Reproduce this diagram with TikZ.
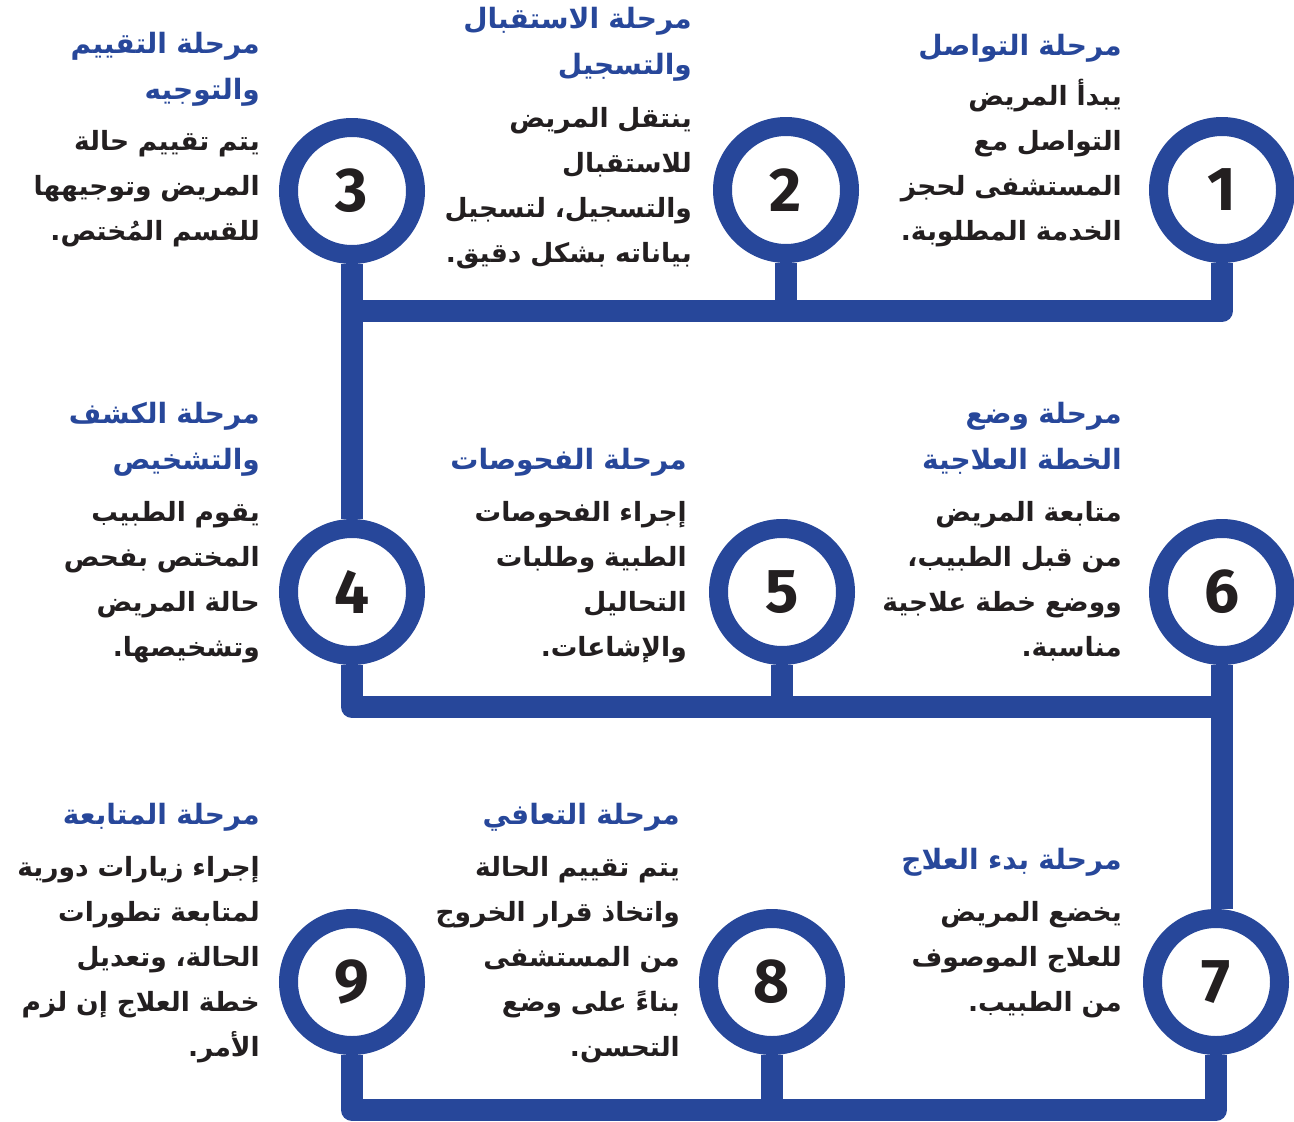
\documentclass[tikz,border=0pt]{standalone}
\usepackage{fontspec}
\usepackage{tikz}
\usetikzlibrary{calc}
\TeXXeTstate=1
\newfontfamily\arabicfont[Script=Arabic]{DejaVu Sans}
\newfontfamily\numfont{Fira Sans}
\definecolor{stepblue}{RGB}{39,71,154}
\definecolor{inkblack}{RGB}{35,31,32}
\newcommand{\arline}[1]{\beginR #1\endR}

\begin{document}
\begin{tikzpicture}[x=1pt,y=-1pt,
  ring/.style={circle,draw=stepblue,line width=19pt,minimum size=127pt,inner sep=0pt,
    fill=white,text=inkblack,font=\numfont\bfseries\fontsize{62}{62}\selectfont},
  pipe/.style={draw=stepblue,line width=22pt,line join=round},
  heading/.style={anchor=base east,text width=330pt,align=right,inner sep=0pt,
    text=stepblue,font=\arabicfont\bfseries\fontsize{28}{46}\selectfont},
  body/.style={heading,text=inkblack,font=\arabicfont\bfseries\fontsize{26.5}{45}\selectfont}]
  \useasboundingbox (0,0) rectangle (1294,1122);

  % numbered rings
  \node[ring] (c1) at (1222,190) {1};
  \node[ring] (c2) at (786,190) {2};
  \node[ring] (c3) at (352,191) {3};
  \node[ring] (c4) at (352,592) {4};
  \node[ring] (c5) at (782,592) {5};
  \node[ring] (c6) at (1222,592) {6};
  \node[ring] (c7) at (1216,982) {7};
  \node[ring] (c8) at (772,982) {8};
  \node[ring] (c9) at (352,982) {9};

  \coordinate (top) at (0,311);
  \coordinate (mid) at (0,707);
  \coordinate (bot) at (0,1110);

  % connecting pipes
  \draw[pipe] (c1.south) |- (c3.south |- top);
  \draw[pipe] (c2.south) -- (c2.south |- top);
  \draw[pipe] (c3.south) -- (c4.north);
  \draw[pipe] (c4.south) |- (c6.south |- mid) -- (c6.south |- c7.north);
  \draw[pipe] (c5.south) -- (c5.south |- mid);
  \draw[pipe] (c6.south) -- (c6.south |- mid);
  \draw[pipe] (c7.south) |- (c9.south |- bot) -- (c9.south);
  \draw[pipe] (c8.south) -- (c8.south |- bot);

  % first row
  \node[heading] (t1) at (1122,55) {\arline{مرحلة التواصل}};
  \node[body] (d1) at (1122,105) {\arline{يبدأ المريض}\\\arline{التواصل مع}\\
    \arline{المستشفى لحجز}\\\arline{الخدمة المطلوبة.}};
  \node[heading] (t2) at (692,28) {\arline{مرحلة الاستقبال}\\\arline{والتسجيل}};
  \node[body] (d2) at (692,127) {\arline{ينتقل المريض}\\\arline{للاستقبال}\\
    \arline{والتسجيل، لتسجيل}\\\arline{بياناته بشكل دقيق.}};
  \node[heading] (t3) at (260,53) {\arline{مرحلة التقييم}\\\arline{والتوجيه}};
  \node[body] (d3) at (260,150) {\arline{يتم تقييم حالة}\\\arline{المريض وتوجيهها}\\
    \arline{للقسم المُختص.}};

  % second row
  \node[heading] (t6) at (1122,423) {\arline{مرحلة وضع}\\\arline{الخطة العلاجية}};
  \node[body] (d6) at (1122,521) {\arline{متابعة المريض}\\\arline{من قبل الطبيب،}\\
    \arline{ووضع خطة علاجية}\\\arline{مناسبة.}};
  \node[heading] (t5) at (687,469) {\arline{مرحلة الفحوصات}};
  \node[body] (d5) at (687,521) {\arline{إجراء الفحوصات}\\\arline{الطبية وطلبات}\\
    \arline{التحاليل}\\\arline{والإشاعات.}};
  \node[heading] (t4) at (260,423) {\arline{مرحلة الكشف}\\\arline{والتشخيص}};
  \node[body] (d4) at (260,521) {\arline{يقوم الطبيب}\\\arline{المختص بفحص}\\
    \arline{حالة المريض}\\\arline{وتشخيصها.}};

  % third row
  \node[heading] (t7) at (1122,869) {\arline{مرحلة بدء العلاج}};
  \node[body] (d7) at (1122,921) {\arline{يخضع المريض}\\\arline{للعلاج الموصوف}\\
    \arline{من الطبيب.}};
  \node[heading] (t8) at (680,824) {\arline{مرحلة التعافي}};
  \node[body] (d8) at (680,876) {\arline{يتم تقييم الحالة}\\\arline{واتخاذ قرار الخروج}\\
    \arline{من المستشفى}\\\arline{بناءً على وضع}\\\arline{التحسن.}};
  \node[heading] (t9) at (260,824) {\arline{مرحلة المتابعة}};
  \node[body] (d9) at (260,876) {\arline{إجراء زيارات دورية}\\\arline{لمتابعة تطورات}\\
    \arline{الحالة، وتعديل}\\\arline{خطة العلاج إن لزم}\\\arline{الأمر.}};
\end{tikzpicture}
\end{document}
